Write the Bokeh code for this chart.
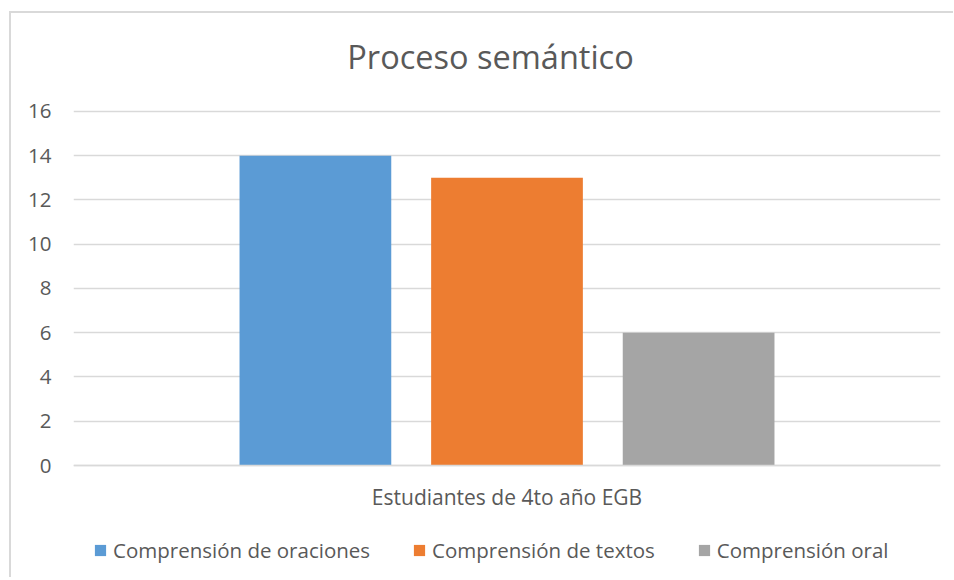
from bokeh.plotting import figure
from bokeh.models import FactorRange, Range1d, Legend, LegendItem, ColumnDataSource, FixedTicker, Label
from bokeh.transform import dodge
from bokeh.embed import file_html
from bokeh.resources import INLINE

# ---- data ----
categories = ["Estudiantes de 4to año EGB"]
series_names = ["Comprensión de oraciones", "Comprensión de textos", "Comprensión oral"]
series_values = [14, 13, 6]
y_ticks = [0, 2, 4, 6, 8, 10, 12, 14, 16]
title_text = "Proceso semántico"

# ---- styles ----
colors = ["#5B9BD5", "#ED7D31", "#A5A5A5"]
offsets = [-0.221, 0.0, 0.221]
bar_width = 0.175
FONT = "Open Sans"
TXT = "#595959"
GRID = "#d9d9d9"

p = figure(
    x_range=FactorRange(*categories),
    y_range=Range1d(-5.062, 20.429),
    frame_width=867, frame_height=564,
    output_backend="svg", toolbar_location=None,
    min_border_left=62, min_border_right=13, min_border_top=0, min_border_bottom=0,
)
p.styles = {"margin-left": "9px", "margin-top": "11px",
            "border-left": "2px solid #d9d9d9", "border-top": "2px solid #d9d9d9"}

items = []
for name, val, col, off in zip(series_names, series_values, colors, offsets):
    src = ColumnDataSource(dict(cat=categories, top=[val]))
    r = p.vbar(x=dodge("cat", off, range=p.x_range), top="top", bottom=0, width=bar_width,
               source=src, fill_color=col, line_color=None)
    items.append(LegendItem(label=name, renderers=[r]))

# title (drawn inside the frame area above the y=16 gridline)
p.add_layout(Label(x=0.481, y=18.5, text=title_text, text_align="center",
                   text_baseline="alphabetic", text_font=FONT, text_font_size="32.5px",
                   text_color=TXT))

p.outline_line_color = None
p.xgrid.grid_line_color = None
p.ygrid.grid_line_color = GRID
p.ygrid.grid_line_width = 1.5
p.yaxis.ticker = FixedTicker(ticks=y_ticks)
p.yaxis.axis_line_color = None
p.yaxis.major_tick_line_color = None
p.yaxis.minor_tick_line_color = None
p.yaxis.major_tick_out = 0
p.yaxis.major_label_text_font = FONT
p.yaxis.major_label_text_font_size = "20.5px"
p.yaxis.major_label_text_color = TXT
p.yaxis.major_label_standoff = 22

p.xaxis.fixed_location = 0
p.xaxis.axis_line_color = GRID
p.xaxis.axis_line_width = 1.5
p.xaxis.major_tick_line_color = None
p.xaxis.minor_tick_line_color = None
p.xaxis.major_tick_out = 0
p.xaxis.major_label_text_font = FONT
p.xaxis.major_label_text_font_size = "21px"
p.xaxis.major_label_text_color = TXT
p.xaxis.major_label_standoff = 17

legend = Legend(items=items, orientation="horizontal", location=(20, 13),
                label_text_font=FONT, label_text_font_size="20.5px", label_text_color=TXT,
                glyph_width=14, glyph_height=14, spacing=42, label_standoff=6,
                border_line_color=None, background_fill_alpha=0, margin=0, padding=0)
p.add_layout(legend, "center")

open("out.html", "w").write(file_html(p, INLINE))
